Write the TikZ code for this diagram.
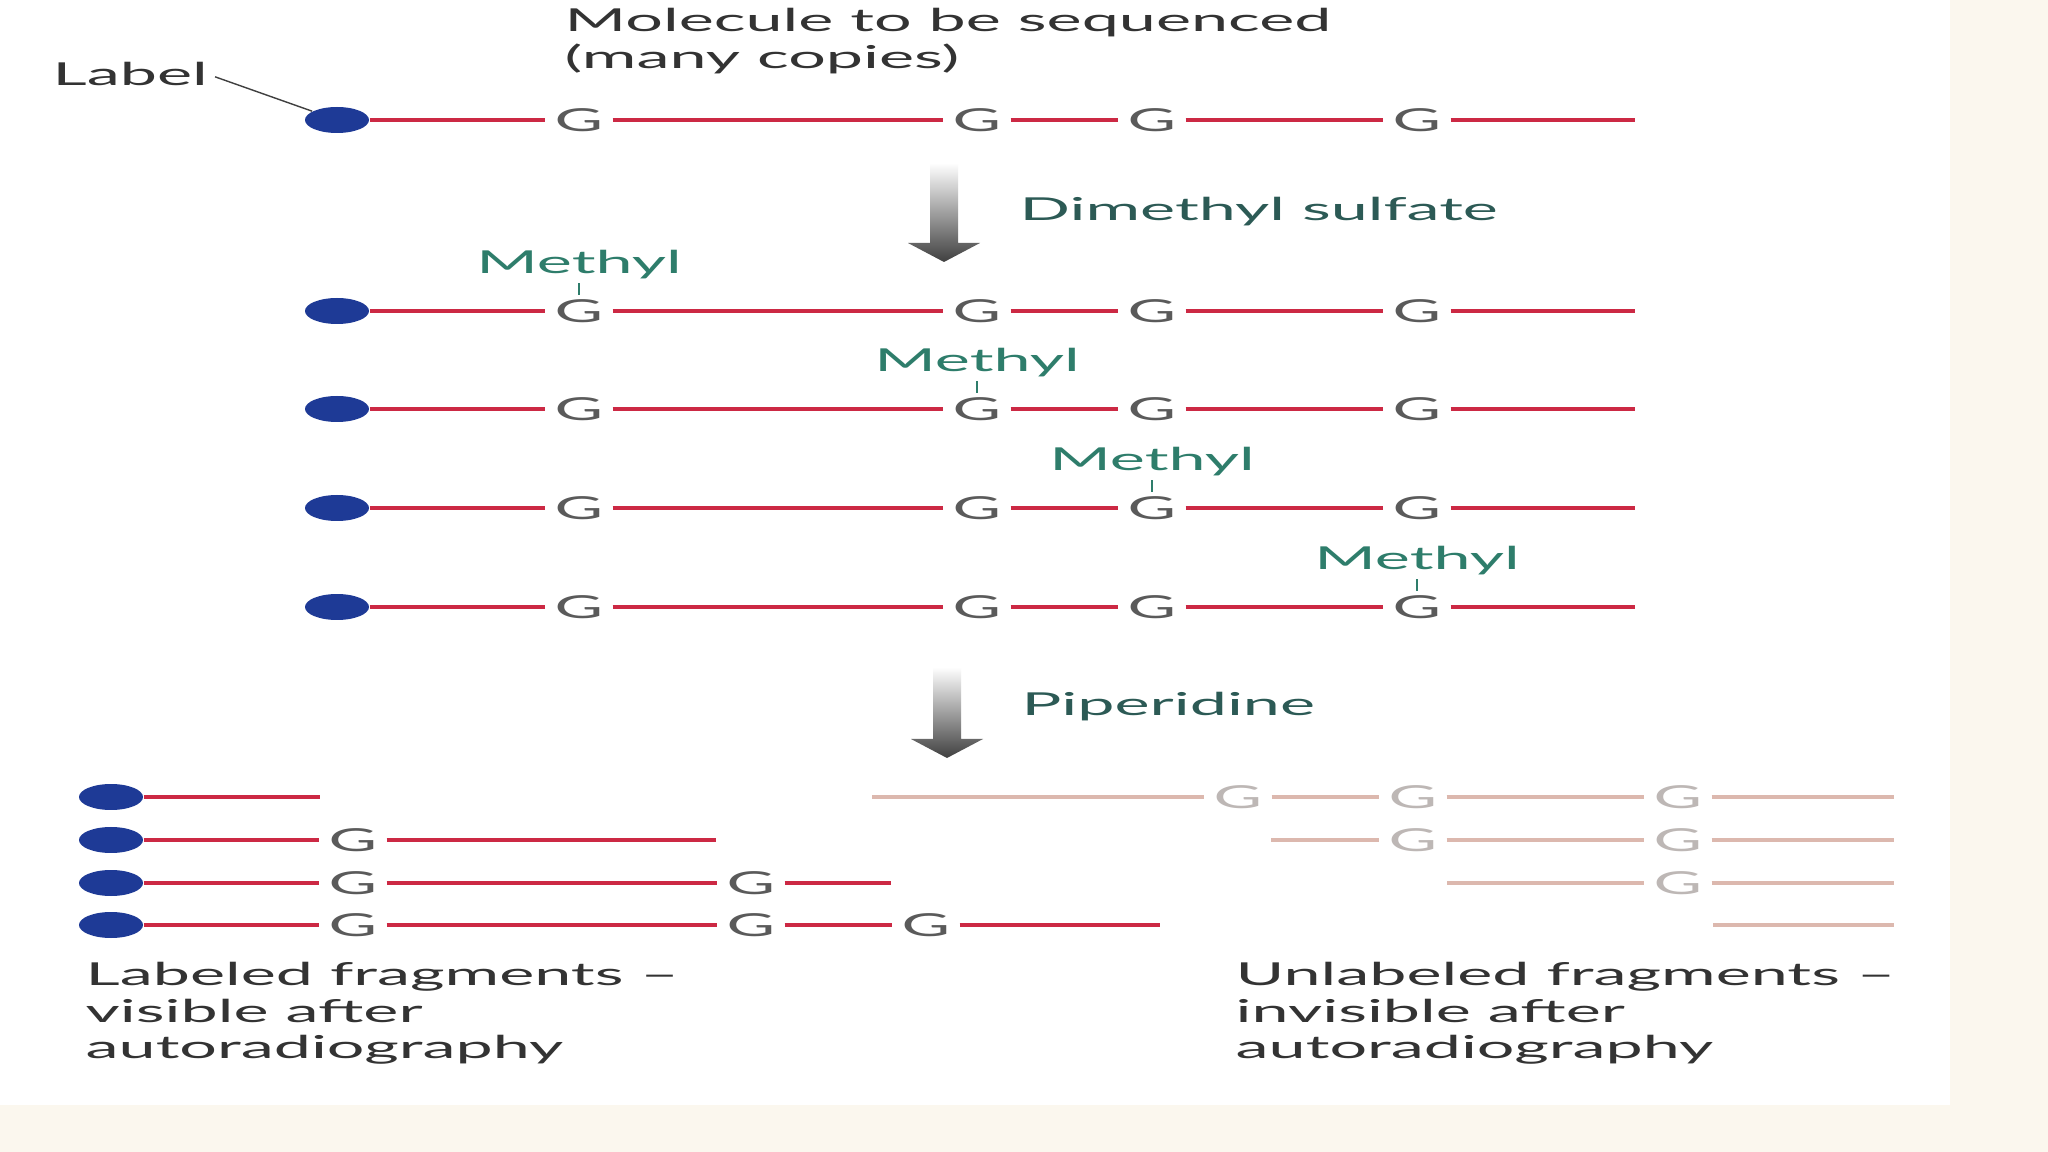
\documentclass[tikz,border=0pt]{standalone}
\usepackage{fontspec}
\setmainfont[FakeStretch=2.1]{Lato}
\usetikzlibrary{arrows.meta,positioning,calc,shapes.geometric}
\definecolor{DnaRed}{HTML}{CC2944}
\definecolor{DnaBlue}{HTML}{1E3A96}
\definecolor{DnaGray}{HTML}{5A5A5A}
\definecolor{DnaGreen}{HTML}{2E7D6B}
\definecolor{DnaTeal}{HTML}{2C5A55}
\definecolor{DnaPale}{HTML}{DCB8AE}
\definecolor{DnaPaleG}{HTML}{BDB7B5}
\definecolor{PaperCream}{HTML}{FBF7EE}

\begin{document}
\begin{tikzpicture}[every node/.style={font=\fontsize{9}{10.3}\selectfont}]
    \tikzset{strand/.style={DnaRed,line width=1.35pt},
      palestrand/.style={DnaPale,line width=1.35pt},
      base/.style={text=DnaGray,inner sep=0pt,minimum width=0.66cm,minimum height=0.3cm},
      palebase/.style={base,text=DnaPaleG},
      tag/.style={ellipse,fill=DnaBlue,minimum width=0.64cm,minimum height=0.26cm,inner sep=0pt},
      methyl/.style={text=DnaGreen,inner sep=1pt},
      caption/.style={text=black!80,align=left,anchor=north west,inner sep=0pt},
      reagent/.style={text=DnaTeal,anchor=west,inner sep=0pt},
      pushdown/.style={top color=white,bottom color=black!75}}
    % paper
    \fill[white] (0,0) rectangle (20.48,-11.52);
    \fill[PaperCream] (19.50,0) rectangle (20.48,-11.52);
    \fill[PaperCream] (0,-11.05) rectangle (20.48,-11.52);
    \useasboundingbox (0,0) rectangle (20.48,-11.52);
    % intact molecule and the four methylated copies
    \foreach \r/\y in {0/1.20,1/3.11,2/4.09,3/5.08,4/6.07}{
      \node[tag] (t\r) at (3.37,-\y) {};
      \foreach \i/\x in {1/5.79,2/9.77,3/11.52,4/14.17}
        \node[base] (g\r\i) at (\x,-\y) {G};
      \coordinate (e\r) at (16.35,-\y);
      \draw[strand] (t\r) -- (g\r1) -- (g\r2) -- (g\r3) -- (g\r4) -- (e\r);
    }
    \foreach \r in {1,...,4}{
      \node[methyl,above=0.12cm of g\r\r] (m\r) {Methyl};
      \draw[DnaGreen,thin] (m\r) -- (g\r\r);
    }
    \node[caption] (lbl) at (0.52,-0.62) {Label};
    \draw[black!75,thin,shorten <=2pt] (lbl.east) -- (t0);
    \node[caption] (mol) at (5.64,-0.08) {Molecule to be sequenced\\(many copies)};
    % reaction arrows
    \foreach \x/\a/\b in {9.44/1.63/2.62,9.47/6.67/7.58}
      \shade[pushdown] (\x-0.14,-\a) -- (\x+0.14,-\a) -- (\x+0.14,-\b+0.19) -- (\x+0.36,-\b+0.19)
        -- (\x,-\b) -- (\x-0.36,-\b+0.19) -- (\x-0.14,-\b+0.19) -- cycle;
    \node[reagent] (dms) at (10.19,-2.12) {Dimethyl sulfate};
    \node[reagent] (pip) at (10.21,-7.07) {Piperidine};
    % labeled fragments
    \node[tag] (fa) at (1.11,-7.97) {};
    \node[tag] (fb) at (1.11,-8.40) {};
    \node[tag] (fc) at (1.11,-8.83) {};
    \node[tag] (fd) at (1.11,-9.25) {};
    \node[base] (fb1) at (3.53,-8.40) {G};
    \node[base] (fc1) at (3.53,-8.83) {G};
    \node[base] (fc2) at (7.51,-8.83) {G};
    \node[base] (fd1) at (3.53,-9.25) {G};
    \node[base] (fd2) at (7.51,-9.25) {G};
    \node[base] (fd3) at (9.26,-9.25) {G};
    \draw[strand] (fa) -- (3.20,-7.97);
    \draw[strand] (fb) -- (fb1) -- (7.16,-8.40);
    \draw[strand] (fc) -- (fc1) -- (fc2) -- (8.91,-8.83);
    \draw[strand] (fd) -- (fd1) -- (fd2) -- (fd3) -- (11.60,-9.25);
    % unlabeled fragments
    \node[palebase] (ua2) at (12.38,-7.97) {G};
    \node[palebase] (ua3) at (14.13,-7.97) {G};
    \node[palebase] (ua4) at (16.78,-7.97) {G};
    \node[palebase] (ub3) at (14.13,-8.40) {G};
    \node[palebase] (ub4) at (16.78,-8.40) {G};
    \node[palebase] (uc4) at (16.78,-8.83) {G};
    \draw[palestrand] (8.72,-7.97) -- (ua2) -- (ua3) -- (ua4) -- (18.94,-7.97);
    \draw[palestrand] (12.71,-8.40) -- (ub3) -- (ub4) -- (18.94,-8.40);
    \draw[palestrand] (14.47,-8.83) -- (uc4) -- (18.94,-8.83);
    \draw[palestrand] (17.13,-9.25) -- (18.94,-9.25);
    \node[caption] (vis) at (0.85,-9.62) {Labeled fragments –\\visible after\\autoradiography};
    \node[caption] (invis) at (12.35,-9.62) {Unlabeled fragments –\\invisible after\\autoradiography};
  \end{tikzpicture}
\end{document}
